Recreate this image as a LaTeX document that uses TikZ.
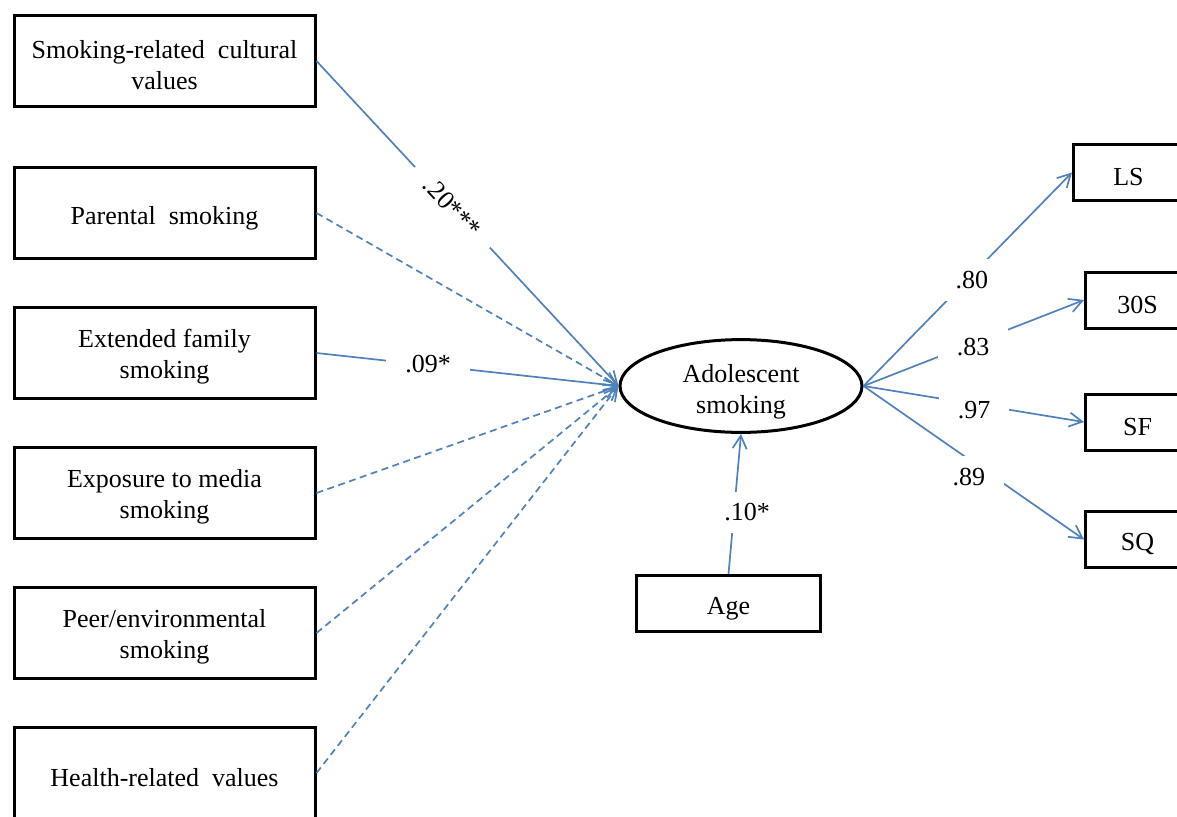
\documentclass[tikz,border=0pt]{standalone}
\usepackage{fontspec}
\setmainfont{Liberation Serif}
\usetikzlibrary{arrows.meta,shapes.geometric}
\definecolor{pathblue}{RGB}{79,129,189}
\begin{document}
\begin{tikzpicture}[x=1pt,y=-1pt,
  every node/.style={font=\fontsize{26}{31}\selectfont},
  var/.style={draw=black, line width=3pt, minimum width=301pt, minimum height=91pt,
              align=center, inner sep=0pt, text height=57pt},
  oneline/.style={text height=28pt},
  ind/.style={draw=black, line width=3pt, minimum height=56pt, inner sep=0pt,
              text height=27pt},
  latent/.style={ellipse, draw=black, line width=3pt, minimum width=242pt,
                 minimum height=90pt, inner sep=0pt, align=center, text height=60pt},
  link/.style={draw=pathblue, line width=1.7pt,
               -{Straight Barb[length=13pt,width=14pt]}},
  nsl/.style={link, dash pattern=on 7pt off 4.5pt},
  coef/.style={fill=white, inner xsep=19pt, inner ysep=12pt}
]
\path[use as bounding box, clip] (0,0) rectangle (1177,816);

% predictors
\node[var] (cult) at (164.5,61)  {Smoking-related\ \ cultural\\values};
\node[var, oneline] (par)  at (164.5,213) {Parental\ \ smoking};
\node[var] (ext)  at (164.5,353) {Extended family\\smoking};
\node[var] (med)  at (164.5,493) {Exposure to media\\smoking};
\node[var] (peer) at (164.5,633) {Peer/environmental\\smoking};
\node[var, oneline] (hlth) at (164.5,773) {Health-related\ \ values};

% latent outcome and covariate
\node[latent] (ado) at (741,386) {Adolescent\\smoking};
\node[var, oneline, minimum width=184pt, minimum height=56pt] (age) at (728.5,603.5) {Age};

% indicators
\node[ind, minimum width=110pt] (ls)  at (1128.5,172.5) {LS};
\node[ind, minimum width=104pt] (s30) at (1137.5,300)   {30S};
\node[ind, minimum width=104pt] (sf)  at (1137.5,422)   {SF};
\node[ind, minimum width=104pt] (sq)  at (1137.5,539.5) {SQ};

% structural paths
\draw[link] (cult.east) -- node[coef, sloped, pos=0.45] {.20***} (ado.west);
\draw[nsl]  (par.east)  -- (ado.west);
\draw[link] (ext.east)  -- node[coef, pos=0.37, yshift=1pt] {.09*} (ado.west);
\draw[nsl]  (med.east)  -- (ado.west);
\draw[nsl]  (peer.east) -- (ado.west);
\draw[nsl]  (hlth.east) -- (ado.west);
\draw[link] (age.north) -- node[coef, pos=0.44, xshift=13pt] {.10*} (ado.south);

% measurement paths
\draw[link] (ado.east) -- node[coef, pos=0.52, yshift=-5pt] {.80} (ls.west);
\draw[link] (ado.east) -- node[coef, pos=0.52, xshift=-5pt, yshift=-6pt] {.83} (s30.west);
\draw[link] (ado.east) -- node[coef, pos=0.52, xshift=-4pt, yshift=-5pt] {.97} (sf.west);
\draw[link] (ado.east) -- node[coef, pos=0.5, xshift=-5pt, yshift=-14pt] {.89} (sq.west);
\end{tikzpicture}
\end{document}
